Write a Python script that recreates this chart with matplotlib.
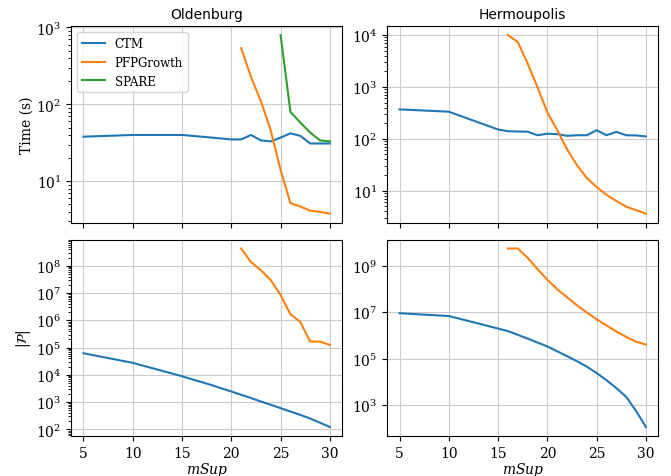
import matplotlib
matplotlib.use("Agg")
import matplotlib.pyplot as plt
import numpy as np

plt.rcParams['font.family'] = 'serif'
plt.rcParams['mathtext.fontset'] = 'dejavuserif'

# x axis (minimum support)
msup = [5, 10, 15, 16, 17, 18, 19, 20, 21, 22, 23, 24, 25, 26, 27, 28, 29, 30]
msup_old_pfp = [21, 22, 23, 24, 25, 26, 27, 28, 29, 30]
msup_old_spare = [25, 26, 27, 28, 29, 30]
msup_her_pfp = [16, 17, 18, 19, 20, 21, 22, 23, 24, 25, 26, 27, 28, 29, 30]

# Oldenburg running time (s)
old_time_ctm = [38, 40, 40, 39, 38, 37, 36, 35, 35, 40, 34, 33, 37, 42, 39, 31, 31, 31]
old_time_pfp = [537, 227, 110, 46, 14, 5.2, 4.7, 4.15, 4.0, 3.8]
old_time_spare = [795, 80, 58, 43, 34, 33]

# Hermoupolis running time (s)
her_time_ctm = [369, 333, 151, 140, 138, 137, 117, 125, 123, 114, 117, 117, 146, 117, 136, 117, 116, 111]
her_time_pfp = [10000, 7350, 2830, 986, 323, 147, 62.5, 31, 17.5, 11.7, 8.3, 6.3, 4.9, 4.2, 3.6]

# Oldenburg number of patterns
old_pat_ctm = [62000, 27500, 8900, 6900, 5400, 4200, 3200, 2450, 1860, 1410, 1050, 800, 600, 450, 340, 250, 175, 122]
old_pat_pfp = [4.3e8, 1.36e8, 6.9e7, 3.0e7, 8.5e6, 1.67e6, 8.7e5, 1.66e5, 1.66e5, 1.25e5]

# Hermoupolis number of patterns
her_pat_ctm = [9.1e6, 6.9e6, 2.0e6, 1.55e6, 1.07e6, 7.4e5, 5.0e5, 3.4e5, 2.1e5, 1.3e5, 7.9e4, 4.6e4,
               2.45e4, 1.2e4, 5.5e3, 2.3e3, 575, 117]
her_pat_pfp = [5.5e9, 5.5e9, 2.2e9, 7.2e8, 2.5e8, 9.8e7, 4.4e7, 2.0e7, 9.8e6, 5.0e6, 2.7e6, 1.5e6,
               8.7e5, 5.4e5, 4.1e5]

fig, axes = plt.subplots(2, 2, figsize=(6.71, 4.77), dpi=100, sharex=True)
fig.subplots_adjust(left=0.106, right=0.981, top=0.943, bottom=0.084, wspace=0.166, hspace=0.087)

ax = axes[0, 0]
ax.plot(msup, old_time_ctm, label='CTM')
ax.plot(msup_old_pfp, old_time_pfp, label='PFPGrowth')
ax.plot(msup_old_spare, old_time_spare, label='SPARE')
ax.set_ylabel('Time (s)', labelpad=2)
ax.set_title('Oldenburg', fontfamily='sans-serif', fontsize=10)
ax.legend(loc='upper left', fontsize=8.5)

ax = axes[0, 1]
ax.plot(msup, her_time_ctm, label='CTM')
ax.plot(msup_her_pfp, her_time_pfp, label='PFPGrowth')
ax.set_title('Hermoupolis', fontfamily='sans-serif', fontsize=10)

ax = axes[1, 0]
ax.plot(msup, old_pat_ctm)
ax.plot(msup_old_pfp, old_pat_pfp)
ax.set_ylabel(r'$|\mathcal{P}|$', labelpad=2)
ax.set_xlabel(r'$mSup$', labelpad=0)

ax = axes[1, 1]
ax.plot(msup, her_pat_ctm)
ax.plot(msup_her_pfp, her_pat_pfp)
ax.set_xlabel(r'$mSup$', labelpad=0)

for ax in axes.flat:
    ax.set_yscale('log')
    ax.grid(True, color='#cccccc', linewidth=0.8)
    ax.set_xticks([5, 10, 15, 20, 25, 30])
    ax.set_axisbelow(True)

fig.savefig('out.png', dpi=100)
